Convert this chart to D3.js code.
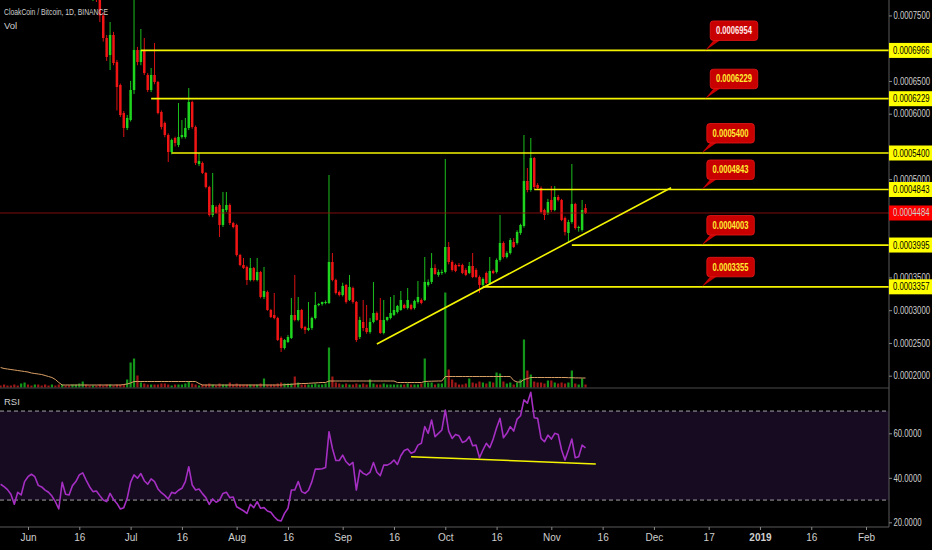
<!DOCTYPE html>
<html>
<head>
<meta charset="utf-8">
<script src="https://cdn.jsdelivr.net/npm/d3@7"></script>
<style>
  html, body { margin: 0; padding: 0; background: #000; }
  svg { display: block; }
  text { font-family: "Liberation Sans Narrow", "Liberation Sans", Arial, sans-serif; }
</style>
</head>
<body>
<svg id="chart" width="932" height="550"></svg>
<script>
// CLOAK/BTC daily, prices in satoshi
const candleStart = "2018-06-20";
const open = [
  80000, 81000, 78000, 75000, 71560, 68960, 72020, 67890, 64380, 60110,
  57820, 59040, 63620, 69730, 67890, 69730, 65910, 63620, 65910, 64840,
  60260, 58580, 56750, 54150, 56290, 55220, 56440, 56440, 57820, 61790,
  57970, 52320, 52480, 50950, 48810, 44540, 45760, 46060, 43010, 45300,
  46060, 43310, 43010, 38430, 36900, 36600, 34610, 36450, 34610, 35830,
  32020, 32780, 30030, 29270, 28810, 25760, 24230, 25150, 25760, 29270,
  28510, 30030, 27440, 26980, 27280, 28810, 30800, 30950, 31100, 31100,
  37360, 34610, 32780, 32320, 33850, 31560, 33390, 31260, 25910, 28200,
  27280, 26670, 28200, 29570, 28510, 26520, 28510, 28810, 29270, 29730,
  30030, 30800, 30340, 30800, 30340, 31260, 31560, 31560, 33850, 34310,
  36450, 35380, 35680, 35830, 39650, 37360, 36900, 36900, 36900, 36140,
  35680, 36750, 36140, 35070, 33850, 35680, 34150, 35990, 35830, 37670,
  40260, 38120, 38730, 40410, 40260, 41790, 42860, 49730, 48350, 53240,
  49120, 48660, 45300, 44840, 46830, 45300, 47280, 46830, 44080, 41790,
  43470, 46220, 42550, 42250, 45600
];
const high = [
  81500, 82000, 78500, 75500, 72020, 74000, 72500, 68200, 64600, 60400,
  59800, 65000, 78000, 70200, 72930, 71560, 66200, 66980, 70800, 65000,
  60500, 58800, 57000, 56200, 56500, 61630, 59040, 59350, 63920, 62000,
  58200, 54000, 52700, 51100, 49000, 50950, 46000, 46300, 48050, 48050,
  46300, 43500, 43200, 38600, 37970, 36800, 37970, 36600, 37970, 36000,
  36600, 33000, 30200, 32630, 29000, 26000, 25600, 26200, 31870, 35380,
  32020, 30200, 27600, 31260, 29000, 32780, 31100, 31300, 31500, 50640,
  38730, 34800, 33000, 34200, 34000, 35380, 33600, 31400, 29000, 31560,
  30800, 28800, 34310, 29800, 31870, 31560, 29000, 32020, 32320, 30800,
  32930, 31000, 33390, 31000, 31600, 34460, 31800, 38120, 34700, 38730,
  37000, 36200, 36200, 53090, 40410, 37600, 37100, 37200, 37100, 36400,
  37360, 38730, 36400, 35300, 35000, 35900, 38120, 36200, 37900, 44540,
  40500, 39000, 41000, 41000, 42200, 43200, 56750, 51710, 56290, 53400,
  49400, 48900, 45500, 47000, 48960, 48960, 47600, 47000, 44300, 43800,
  52320, 46400, 42900, 46830, 46200
];
const low = [
  77200, 77050, 74000, 71000, 68050, 66670, 67400, 60500, 59500, 56440,
  57500, 58800, 63000, 67400, 67400, 65900, 63300, 63300, 64500, 59900,
  57600, 56400, 52630, 53800, 55000, 54900, 56200, 56200, 57500, 57700,
  52170, 52000, 50800, 48600, 44300, 44200, 44700, 41180, 42700, 45000,
  43000, 42500, 38200, 36700, 36300, 33850, 34400, 34400, 34400, 31800,
  31700, 29900, 28800, 28600, 25300, 23620, 24000, 25000, 25600, 28300,
  28300, 27100, 26400, 26800, 27000, 28600, 30600, 30700, 30900, 30950,
  34400, 32400, 32100, 32100, 31000, 31400, 31000, 25150, 25600, 26800,
  26400, 26400, 28000, 28400, 26400, 26300, 28300, 28600, 29100, 29500,
  29900, 30200, 30100, 30000, 30100, 31000, 30900, 31400, 33600, 34000,
  35400, 35100, 35400, 35600, 37000, 35900, 35800, 36600, 35500, 35200,
  35500, 34900, 34900, 32630, 33600, 34000, 33900, 35500, 35600, 37400,
  37900, 37900, 38500, 39500, 40000, 41500, 42600, 48000, 48100, 48500,
  48500, 44800, 43770, 44540, 45000, 45100, 46600, 43600, 41400, 40260,
  43200, 42300, 42000, 42000, 44700
];
const close = [
  81000, 78000, 75000, 71560, 68660, 72020, 67740, 64080, 59800, 57820,
  59350, 63620, 69730, 67890, 69730, 66210, 63620, 65910, 64840, 60110,
  57970, 56750, 54150, 55990, 55530, 56440, 56750, 57820, 61790, 57970,
  52480, 52780, 50950, 48810, 44540, 46060, 44840, 43010, 45450, 46060,
  43310, 42700, 38430, 36900, 36450, 34610, 36450, 34610, 35830, 32020,
  32930, 30030, 28960, 28810, 25450, 24230, 25450, 25910, 29270, 28510,
  30030, 27280, 26980, 27280, 28810, 30800, 30950, 31260, 31260, 37360,
  34610, 32630, 32320, 33700, 31260, 33540, 31260, 25450, 28510, 27280,
  26670, 28200, 29570, 28510, 26520, 28510, 28960, 29570, 30030, 30640,
  31560, 30340, 31560, 30190, 31410, 32020, 31100, 34310, 34310, 36450,
  35530, 35830, 35830, 39650, 37360, 36140, 35990, 36750, 35680, 35380,
  36750, 35070, 35070, 33850, 34770, 34150, 35990, 35680, 37670, 40260,
  38120, 38730, 40720, 39650, 41940, 43010, 49730, 48350, 53240, 48810,
  48660, 44990, 44540, 46520, 45300, 47280, 46830, 43770, 41940, 43470,
  46220, 42550, 42700, 45300, 44840
];

// volume pane and RSI start earlier than the visible candles
const volStart = "2018-05-24";
const volume = [
  2, 3, 2, 2, 3, 2, 4, 5,
  3, 2, 3, 3, 2, 3, 2, 3, 2, 3, 3, 2, 2, 3, 3, 4, 6, 3, 2,
  2, 2, 3, 2, 3, 3, 2, 3, 3, 3,
  8, 25, 29, 12, 5, 4, 3, 3, 3, 3,
  4, 4, 3, 2, 3, 3, 3, 4, 6, 4,
  3, 2, 3, 3, 4, 3, 2, 4, 3, 3,
  5, 3, 4, 3, 3, 3, 3, 3, 3, 4,
  9, 3, 3, 3, 4, 5, 4, 4, 4, 11,
  5, 3, 3, 3, 3, 4, 3, 3, 4, 40,
  11, 5, 4, 3, 4, 3, 3, 4, 3, 4,
  3, 8, 4, 3, 3, 4, 3, 3, 3, 3,
  3, 3, 4, 3, 3, 3, 4, 29, 5, 5,
  3, 4, 4, 95, 18, 8, 5, 3, 3, 4,
  9, 5, 4, 6, 5, 4, 6, 5, 15, 14,
  6, 4, 5, 3, 5, 8, 48, 17, 13, 6,
  5, 5, 4, 7, 7, 5, 4, 5, 4, 5,
  17, 4, 3, 9, 3
];
// direction of the volume bars before the first visible candle
const earlyVolUp = [0,0,0,0,0,0,1,1, 0,0,1,0,0,0,0,1,0,0,1,0,0,1,1,1,1,0,0];
const volumeMA = [
  20, 19, 18.5, 18, 17.5, 17, 16.5, 16,
  15.5, 14.5, 14, 13.5, 13, 12, 11, 10, 8, 5,
  2.5, 2.5, 2.5, 2.5, 2.5, 2.5, 2.5, 2.5, 2.5, 2.5, 2.5, 2.5, 2.5, 2.5, 2.5, 2.5, 2.5, 2.5,
  3, 3.5, 4.5, 6,
  6, 6, 6, 6, 6, 6, 6, 6, 6, 6, 6, 6, 6, 6, 6, 6, 6, 6,
  4, 2.5,
  2.5, 2.5, 2.5, 2.5, 2.5, 2.5, 2.5, 2.5, 2.5, 2.5, 2.5, 2.5, 2.5, 2.5, 2.5, 2.5, 2.5, 2.5, 2.5, 2.5, 2.5, 2.5, 2.5,
  2.8, 3, 3.2, 3.5, 3.7, 4, 4, 4.2, 4.4, 4.6, 4.8, 5, 5, 6.5,
  6.5, 6.5, 6.5, 6.5, 6.5, 6.5, 6.5, 6.5, 6.5, 6.5, 6.5, 6.5, 6.5, 6.5, 6.5, 6.5, 6.5, 6.5, 6.5,
  5, 5, 5, 5, 5, 5, 5, 5,
  6, 6.2, 6.3, 6.4, 6.5, 6.5,
  11, 11, 11, 11, 11, 11, 11, 11, 11, 11, 11, 11, 11, 11, 11, 11, 11, 11, 11, 11,
  7, 5.5, 5.5,
  8, 9, 10, 10, 10, 10, 10, 10, 10, 10, 10, 10, 10, 9.8, 9.8, 9.6, 9.6, 9.5, 9.5
];
const rsi = [
  37.1, 36.0, 34.7, 32.6, 28.1, 33.5, 32.3, 38.3,
  40.5, 41.6, 40.5, 36.6, 35.9, 34.5, 33.5, 31.8, 29.3, 26.0,
  38.0, 32.6, 32.3, 36.5, 38.3, 41.3, 42.2, 39.0, 36.0, 33.8,
  34.1, 32.0, 30.0, 29.3, 33.0, 30.3, 28.5, 26.0, 26.6, 30.8,
  38.0, 41.3, 39.8, 41.9, 38.7, 37.1, 39.5, 38.3, 35.0, 33.3,
  32.1, 30.5, 33.5, 33.0, 34.4, 35.3, 38.3, 45.0, 36.8, 34.5,
  35.0, 32.9, 31.1, 28.1, 30.5, 29.0, 30.0, 33.0, 33.5, 31.1,
  31.4, 27.0, 26.1, 25.2, 24.0, 28.1, 26.6, 29.3, 26.3, 26.6,
  25.1, 24.5, 22.5, 21.0, 20.6, 24.0, 26.3, 34.5, 34.5, 38.3,
  33.8, 33.0, 34.4, 38.3, 43.9, 43.9, 44.1, 44.6, 60.7, 53.2,
  47.8, 47.8, 50.2, 47.2, 45.7, 46.9, 34.5, 43.5, 42.0, 41.3,
  42.5, 46.9, 42.5, 41.0, 45.7, 45.7, 46.5, 48.0, 46.0, 49.9,
  52.3, 52.9, 51.0, 51.7, 54.7, 55.5, 63.0, 60.0, 66.0, 58.5,
  60.0, 61.5, 70.5, 61.0, 57.7, 59.5, 58.9, 55.9, 56.5, 58.5,
  54.4, 54.7, 49.0, 52.5, 55.5, 53.5, 57.4, 62.5, 66.7, 58.0,
  60.0, 63.0, 61.0, 66.4, 67.9, 75.0, 73.5, 78.4, 67.0, 66.7,
  57.7, 56.2, 59.2, 57.4, 60.0, 59.5, 52.5, 48.0, 52.5, 57.4,
  49.0, 49.5, 54.7, 53.5
];

// drawings
const levelPrices = [69660, 62290, 54000, 48430, 39950, 33570];
const levelStarts = ["2018-07-04", "2018-07-07", "2018-07-13", "2018-10-27", "2018-11-07", "2018-10-12"];
const calloutTexts = ["0.0006954", "0.0006229", "0.0005400", "0.0004843", "0.0004003", "0.0003355"];
const calloutDates = ["2018-12-16", "2018-12-16", "2018-12-15", "2018-12-15", "2018-12-15", "2018-12-15"];
const trendDates = ["2018-09-11", "2018-12-06"];
const trendPrices = [24840, 48700];
const rsiTrendDates = ["2018-09-21", "2018-11-14"];
const rsiTrendValues = [49.5, 46.2];

const dateTicks = ["2018-06-01", "2018-06-16", "2018-07-01", "2018-07-16", "2018-08-01", "2018-08-16",
  "2018-09-01", "2018-09-16", "2018-10-01", "2018-10-16", "2018-11-01", "2018-11-16", "2018-12-01",
  "2018-12-17", "2019-01-01", "2019-01-16", "2019-02-01"];
const dateTickLabels = ["Jun", "16", "Jul", "16", "Aug", "16", "Sep", "16", "Oct", "16", "Nov", "16", "Dec", "17", "2019", "16", "Feb"];
const rsiTicks = [20, 40, 60];

const green = "#1fd41f", red = "#f01414";
const volGreen = "#14961a", volRed = "#a01818";
const yellow = "#f4f400";
const axisText = "#cfcfcf";
const plotRight = 889;

const parseDay = d3.utcParse("%Y-%m-%d");
const svg = d3.select("#chart");

const x = d3.scaleUtc()
    .domain([parseDay("2018-06-01"), parseDay("2019-02-01")])
    .range([28, 866]);
const y = d3.scaleLinear().domain([20000, 75000]).range([375.7, 15.45]);
const yVol = d3.scaleLinear().domain([0, 100]).range([387.5, 287.5]);
const yRsi = d3.scaleLinear().domain([17.9, 80.36]).range([527, 388]);
const fmtPrice = v => (v / 1e8).toFixed(7);

const candleDay = i => d3.utcDay.offset(parseDay(candleStart), i);
const volDay = i => d3.utcDay.offset(parseDay(volStart), i);
const candleOffset = d3.utcDay.count(parseDay(volStart), parseDay(candleStart));

svg.append("rect").attr("width", 932).attr("height", 550).attr("fill", "#000");

const defs = svg.append("defs");
defs.append("clipPath").attr("id", "mainClip")
    .append("rect").attr("x", 0).attr("y", 0).attr("width", plotRight).attr("height", 388);
defs.append("clipPath").attr("id", "rsiClip")
    .append("rect").attr("x", 0).attr("y", 388).attr("width", plotRight).attr("height", 139);

// ---- volume
const main = svg.append("g").attr("clip-path", "url(#mainClip)");

main.selectAll("rect.vol")
    .data(volume)
    .join("rect")
    .attr("class", "vol")
    .attr("x", (v, i) => x(volDay(i)) - 1.1)
    .attr("width", 2.2)
    .attr("y", v => yVol(v))
    .attr("height", v => yVol(0) - yVol(v))
    .attr("fill", (v, i) => {
        const c = i - candleOffset;
        const up = c >= 0 ? close[c] >= open[c] : earlyVolUp[i] === 1;
        return up ? volGreen : volRed;
    });

main.append("path")
    .datum(volumeMA)
    .attr("fill", "none")
    .attr("stroke", "#d9a066")
    .attr("stroke-width", 1)
    .attr("d", d3.line().x((v, i) => x(volDay(i))).y(v => yVol(v)));

// ---- candles
const candles = main.selectAll("g.candle")
    .data(open.map((o, i) => i))
    .join("g")
    .attr("class", "candle");

candles.append("line")
    .attr("x1", i => x(candleDay(i)))
    .attr("x2", i => x(candleDay(i)))
    .attr("y1", i => y(high[i]))
    .attr("y2", i => y(low[i]))
    .attr("stroke", i => close[i] >= open[i] ? green : red)
    .attr("stroke-width", 0.9);

candles.append("rect")
    .attr("x", i => x(candleDay(i)) - 1.25)
    .attr("width", 2.5)
    .attr("y", i => y(Math.max(open[i], close[i])))
    .attr("height", i => Math.max(1, Math.abs(y(open[i]) - y(close[i]))))
    .attr("fill", i => close[i] >= open[i] ? green : red);

// current price line
const last = close[close.length - 1];
main.append("line")
    .attr("x1", 0).attr("x2", plotRight)
    .attr("y1", y(last)).attr("y2", y(last))
    .attr("stroke", "#a01010").attr("stroke-width", 0.8);

// horizontal levels
levelPrices.forEach((p, i) => {
    main.append("line")
        .attr("x1", x(parseDay(levelStarts[i])))
        .attr("x2", plotRight)
        .attr("y1", y(p)).attr("y2", y(p))
        .attr("stroke", yellow).attr("stroke-width", 1.7);
});

// rising trend line
main.append("line")
    .attr("x1", x(parseDay(trendDates[0]))).attr("y1", y(trendPrices[0]))
    .attr("x2", x(parseDay(trendDates[1]))).attr("y2", y(trendPrices[1]))
    .attr("stroke", yellow).attr("stroke-width", 1.6);

// callouts
levelPrices.forEach((p, i) => {
    const ax = x(parseDay(calloutDates[i]));
    const ay = y(p);
    const g = main.append("g");
    g.append("polygon")
        .attr("points", `${ax},${ay} ${ax + 9},${ay - 11} ${ax + 16},${ay - 11}`)
        .attr("fill", "#c80000");
    g.append("rect")
        .attr("x", ax + 5).attr("y", ay - 29.5)
        .attr("width", 47.5).attr("height", 19.5)
        .attr("rx", 3)
        .attr("fill", "#c80000")
        .attr("stroke", "#e81818").attr("stroke-width", 0.8);
    g.append("text")
        .attr("x", ax + 28.75).attr("y", ay - 16.3)
        .attr("text-anchor", "middle")
        .attr("font-size", 10).attr("font-weight", "bold")
        .attr("textLength", 36).attr("lengthAdjust", "spacingAndGlyphs")
        .attr("fill", "#ffee33")
        .text(calloutTexts[i]);
});

// ---- RSI pane
const rsiG = svg.append("g").attr("clip-path", "url(#rsiClip)");
rsiG.append("rect")
    .attr("x", 0).attr("width", plotRight)
    .attr("y", yRsi(70)).attr("height", yRsi(30) - yRsi(70))
    .attr("fill", "#170b22");

[70, 30].forEach(v => {
    rsiG.append("line")
        .attr("x1", 0).attr("x2", plotRight)
        .attr("y1", yRsi(v)).attr("y2", yRsi(v))
        .attr("stroke", "#b4b4b4").attr("stroke-width", 0.9)
        .attr("stroke-dasharray", "4,3");
});

rsiG.append("path")
    .datum(rsi)
    .attr("fill", "none")
    .attr("stroke", "#a52fc2")
    .attr("stroke-width", 1.6)
    .attr("stroke-linejoin", "round")
    .attr("d", d3.line().x((v, i) => x(volDay(i))).y(v => yRsi(v)));

rsiG.append("line")
    .attr("x1", x(parseDay(rsiTrendDates[0]))).attr("y1", yRsi(rsiTrendValues[0]))
    .attr("x2", x(parseDay(rsiTrendDates[1]))).attr("y2", yRsi(rsiTrendValues[1]))
    .attr("stroke", yellow).attr("stroke-width", 1.5);

// ---- frame lines
svg.append("line").attr("x1", 0).attr("x2", plotRight).attr("y1", 388).attr("y2", 388)
    .attr("stroke", "#4a4a4a").attr("stroke-width", 1);
svg.append("line").attr("x1", 0).attr("x2", plotRight).attr("y1", 527).attr("y2", 527)
    .attr("stroke", "#5a5a5a").attr("stroke-width", 1);
svg.append("line").attr("x1", plotRight).attr("x2", plotRight).attr("y1", 0).attr("y2", 527)
    .attr("stroke", "#5a5a5a").attr("stroke-width", 1);

// ---- price axis
const levelYs = levelPrices.map(p => y(p)).concat([y(last)]);
const priceTicks = d3.range(20000, 75001, 5000)
    .filter(t => levelYs.every(ly => Math.abs(ly - y(t)) >= 8));

function styleAxisText(sel, len) {
    sel.attr("fill", axisText).attr("font-size", 10)
        .attr("font-family", "'Liberation Sans Narrow', 'Liberation Sans', Arial, sans-serif")
        .attr("textLength", len).attr("lengthAdjust", "spacingAndGlyphs");
}

const priceAxis = svg.append("g")
    .attr("transform", `translate(${plotRight},0)`)
    .call(d3.axisRight(y).tickValues(priceTicks).tickSize(3).tickPadding(1.5).tickFormat(fmtPrice));
priceAxis.select(".domain").remove();
priceAxis.selectAll("line").attr("stroke", "#8a8a8a");
styleAxisText(priceAxis.selectAll("text"), 36.5);

const rsiAxis = svg.append("g")
    .attr("transform", `translate(${plotRight},0)`)
    .call(d3.axisRight(yRsi).tickValues(rsiTicks).tickSize(3).tickPadding(1.5).tickFormat(d => d.toFixed(4)));
rsiAxis.select(".domain").remove();
rsiAxis.selectAll("line").attr("stroke", "#8a8a8a");
styleAxisText(rsiAxis.selectAll("text"), 28);

// level labels on the axis
levelPrices.forEach(p => {
    svg.append("rect")
        .attr("x", plotRight).attr("y", y(p) - 7.5)
        .attr("width", 932 - plotRight).attr("height", 15)
        .attr("fill", "#ffff00");
    styleAxisText(svg.append("text")
        .attr("x", plotRight + 4).attr("y", y(p) + 3.5)
        .text(fmtPrice(p)), 36.5);
});
svg.selectAll("text").filter(function () { return this.parentNode === svg.node() && this.getAttribute("fill") === axisText && this.getAttribute("x") == plotRight + 4; })
    .attr("fill", "#000");

svg.append("rect")
    .attr("x", plotRight).attr("y", y(last) - 7.5)
    .attr("width", 932 - plotRight).attr("height", 15)
    .attr("fill", "#ff0000");
styleAxisText(svg.append("text")
    .attr("x", plotRight + 4).attr("y", y(last) + 3.5)
    .text(fmtPrice(last)), 36.5);
svg.select("text:last-of-type").attr("fill", "#ffe8e8");

// ---- date axis
const dateAxis = svg.append("g")
    .attr("transform", "translate(0,527)")
    .call(d3.axisBottom(x).tickValues(dateTicks.map(parseDay)).tickSize(3).tickPadding(4)
        .tickFormat((d, i) => dateTickLabels[i]));
dateAxis.select(".domain").remove();
dateAxis.selectAll("line").attr("stroke", "#8a8a8a");
dateAxis.selectAll("text").attr("fill", axisText).attr("font-size", 10)
    .attr("font-family", "'Liberation Sans Narrow', 'Liberation Sans', Arial, sans-serif")
    .attr("font-weight", (d, i) => dateTickLabels[i] === "2019" ? "bold" : "normal");

// ---- pane titles
svg.append("text").attr("x", 4).attr("y", 15).attr("font-size", 9.5).attr("fill", axisText)
    .attr("textLength", 104).attr("lengthAdjust", "spacingAndGlyphs")
    .text("CloakCoin / Bitcoin, 1D, BINANCE");
svg.append("text").attr("x", 4).attr("y", 29).attr("font-size", 9.5).attr("fill", axisText)
    .text("Vol");
svg.append("text").attr("x", 4).attr("y", 405).attr("font-size", 9.5).attr("fill", axisText)
    .text("RSI");
</script>
</body>
</html>
